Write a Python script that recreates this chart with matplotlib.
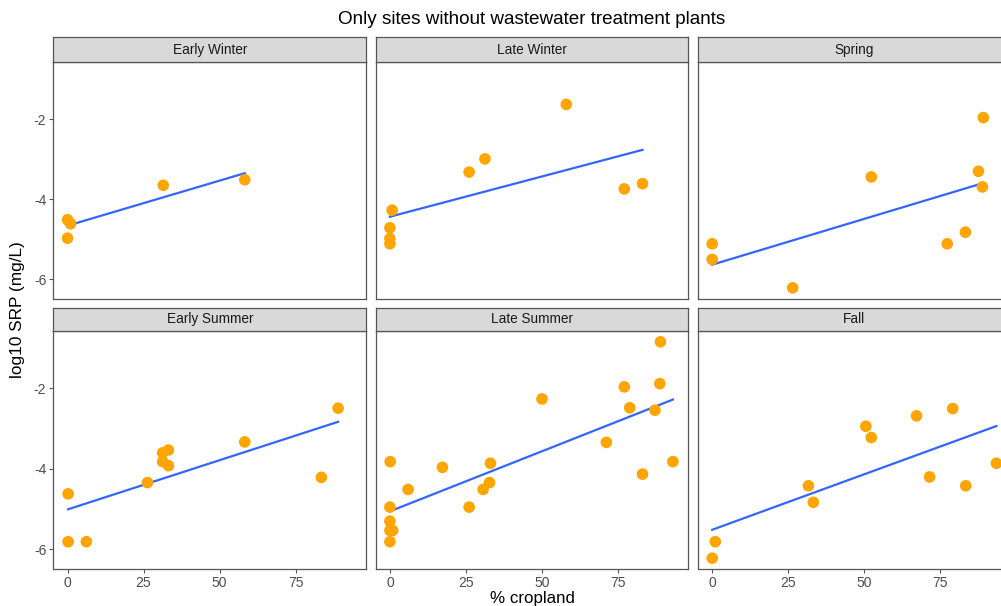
import numpy as np
import matplotlib
matplotlib.use("Agg")
import matplotlib.pyplot as plt

plt.rcParams['font.family'] = ['Liberation Sans', 'DejaVu Sans']
plt.rcParams['axes.unicode_minus'] = False

# Data, one pair of lists per season
seasons = ['Early Winter', 'Late Winter', 'Spring', 'Early Summer', 'Late Summer', 'Fall']

early_winter_x = [0, 1, 0, 31.5, 58.3]
early_winter_y = [-4.51, -4.61, -4.97, -3.65, -3.51]

late_winter_x = [0.75, 0, 0, 0, 26.1, 31.3, 58.1, 77.2, 83.2]
late_winter_y = [-4.27, -4.71, -4.98, -5.11, -3.32, -2.99, -1.63, -3.74, -3.61]

spring_x = [0, 0, 26.5, 52.4, 77.4, 83.4, 87.7, 89.0, 89.3]
spring_y = [-5.11, -5.50, -6.21, -3.44, -5.11, -4.82, -3.30, -3.69, -1.96]

early_summer_x = [0.2, 0.2, 6.2, 26.3, 31.3, 33.2, 31.3, 33.2, 58.3, 83.5, 89.0]
early_summer_y = [-4.62, -5.81, -5.81, -4.34, -3.60, -3.53, -3.82, -3.92, -3.33, -4.21, -2.49]

late_summer_x = [0.1, 0, 0, 0, 0.9, 0, 6.0, 17.3, 26.1, 30.7, 32.8, 33.1,
                 50.1, 71.3, 77.2, 79.0, 83.2, 87.3, 88.9, 89.1, 93.2]
late_summer_y = [-3.82, -4.95, -5.30, -5.53, -5.53, -5.81, -4.51, -3.96, -4.95, -4.51, -4.34, -3.86,
                 -2.26, -3.34, -1.96, -2.48, -4.13, -2.54, -1.88, -0.84, -3.82]

fall_x = [0, 1.0, 31.7, 33.3, 50.6, 52.4, 67.3, 71.6, 79.2, 83.5, 93.6]
fall_y = [-6.22, -5.81, -4.42, -4.83, -2.94, -3.22, -2.68, -4.20, -2.50, -4.42, -3.86]

xs = [early_winter_x, late_winter_x, spring_x, early_summer_x, late_summer_x, fall_x]
ys = [early_winter_y, late_winter_y, spring_y, early_summer_y, late_summer_y, fall_y]

x_ticks = [0, 25, 50, 75]
y_ticks = [-6, -4, -2]

# shared scales with ggplot's 5% expansion
all_x = np.concatenate([np.array(v, float) for v in xs])
all_y = np.concatenate([np.array(v, float) for v in ys])
xpad = 0.05 * (all_x.max() - all_x.min())
ypad = 0.05 * (all_y.max() - all_y.min())
xlim = (all_x.min() - xpad, all_x.max() + xpad)
ylim = (all_y.min() - ypad, all_y.max() + ypad)

W, H = 1001, 606
fig = plt.figure(figsize=(W / 100, H / 100), dpi=100)

# panel boxes in pixels (left, right) and (strip top, panel top, panel bottom)
cols = [(53.3, 366.3), (375.7, 688.3), (698, 1010.6)]
rows = [(37.3, 62, 299), (307.7, 331, 569)]

edge = '#555555'
for i, name in enumerate(seasons):
    r, c = divmod(i, 3)
    l, rt = cols[c]
    st, pt, pb = rows[r]
    ax = fig.add_axes([l / W, 1 - pb / H, (rt - l) / W, (pb - pt) / H])
    sax = fig.add_axes([l / W, 1 - pt / H, (rt - l) / W, (pt - st) / H])

    x = np.array(xs[i], float)
    y = np.array(ys[i], float)
    ax.scatter(x, y, s=70, color='orange', edgecolors='none', zorder=3)
    slope, icpt = np.polyfit(x, y, 1)
    xx = np.array([x.min(), x.max()])
    ax.plot(xx, icpt + slope * xx, color='#3366FF', lw=1.6, zorder=2)

    ax.set_xlim(xlim)
    ax.set_ylim(ylim)
    ax.set_xticks(x_ticks)
    ax.set_yticks(y_ticks)
    ax.tick_params(colors=edge, labelcolor='#4D4D4D', labelsize=10, length=3, width=0.8, pad=2)
    if c != 0:
        ax.tick_params(axis='y', left=False, labelleft=False)
    if r != 1:
        ax.tick_params(axis='x', bottom=False, labelbottom=False)
    for sp in ax.spines.values():
        sp.set_color(edge)
        sp.set_linewidth(0.9)

    sax.set_facecolor('#D9D9D9')
    sax.set_xticks([])
    sax.set_yticks([])
    for sp in sax.spines.values():
        sp.set_color(edge)
        sp.set_linewidth(0.9)
    sax.text(0.5, 0.5, name, ha='center', va='center', fontsize=9.8,
             color='#1A1A1A', transform=sax.transAxes)

fig.text(532 / W, 1 - 20 / H, 'Only sites without wastewater treatment plants',
         ha='center', va='center', fontsize=13.6)
fig.text(532 / W, 1 - 599 / H, '% cropland', ha='center', va='center', fontsize=12.2)
fig.text(18 / W, 1 - 310 / H, 'log10 SRP (mg/L)', ha='center', va='center',
         rotation=90, fontsize=12.4)

fig.savefig('out.png', dpi=100)
